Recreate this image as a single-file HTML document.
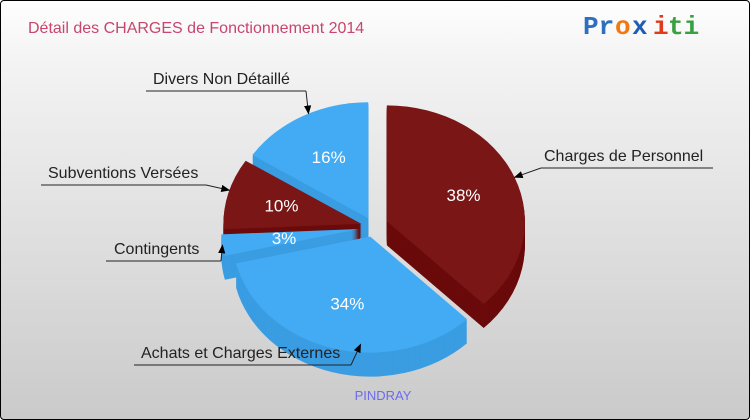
<!DOCTYPE html>
<html><head><meta charset="utf-8"><style>
html,body{margin:0;padding:0;}
#wrap{position:relative;width:748px;height:418px;border:1px solid #000;border-radius:4px;background:linear-gradient(#fefefe,#f3f3f3 15%,#cacaca);overflow:hidden;font-family:"Liberation Sans",sans-serif;}
svg{position:absolute;left:0;top:0;}
</style></head><body>
<div id="wrap">
<svg id="chart" width="750" height="420">
<defs><marker id="ah" viewBox="0 0 10 10" refX="9" refY="5" markerWidth="9" markerHeight="9" orient="auto"><path d="M0,1L10,5L0,9z" fill="#000"/></marker></defs>
<text x="27" y="32" font-size="16" fill="#c8456e">Détail des CHARGES de Fonctionnement 2014</text>
<g font-size="26" font-weight="bold" font-family="Liberation Mono,monospace">
<text x="582" y="33" fill="#2f6fc0">Pr</text><text x="614" y="33" fill="#f07a10">o</text><text x="631" y="33" fill="#1e5cb8">x</text><text x="652" y="33" fill="#e03a1a">i</text><text x="667" y="33" fill="#38a040">ti</text>
</g>
<text x="382" y="399" font-size="13" fill="#6b6bf0" text-anchor="middle">PINDRAY</text>
</svg>
</div>
<script>
const categories=["Charges de Personnel","Achats et Charges Externes","Contingents","Subventions Versées","Divers Non Détaillé"];
const values=[38,34,3,10,16];
const pctLabels=["38%","34%","3%","10%","16%"];
const sliceColors=["red","blue","blue","red","blue"];
const ns="http://www.w3.org/2000/svg";
const svgEl=document.getElementById('chart');
const cx=372,cy=226,rx=138,ry=116,depth=24;
const explodeBy=[15,10,14,12,10];
const topCol={red:"#7a1616",blue:"#42abf3"},sideCol={red:"#6a0a0a",blue:"#3a9de2"};
const total=values.reduce((a,b)=>a+b,0);
function ang(v){return v/total*Math.PI*2;}
let startA=-Math.PI/2;
const slices=[];
values.forEach((v,i)=>{const a1=startA+ang(v);slices.push({i,a0:startA,a1,m:(startA+a1)/2});startA=a1;});
function slicePath(s,dx,dy){
  const ox=cx+dx,oy=cy+dy;
  const x0=ox+rx*Math.cos(s.a0),y0=oy+ry*Math.sin(s.a0),x1=ox+rx*Math.cos(s.a1),y1=oy+ry*Math.sin(s.a1);
  const large=(s.a1-s.a0)>Math.PI?1:0;
  return `M${ox},${oy}L${x0},${y0}A${rx},${ry} 0 ${large} 1 ${x1},${y1}Z`;
}
const g=document.createElementNS(ns,'g');
svgEl.appendChild(g);
slices.forEach(s=>{s.dx=explodeBy[s.i]*Math.cos(s.m);s.dy=explodeBy[s.i]*Math.sin(s.m);});
slices.slice().sort((a,b)=>Math.sin(a.m)-Math.sin(b.m)).forEach(s=>{
  const c=sliceColors[s.i];
  const sg=document.createElementNS(ns,'g');
  
  
  for(let d=depth;d>0;d-=1){
    const p=document.createElementNS(ns,'path');
    p.setAttribute('d',slicePath(s,s.dx,s.dy+d));p.setAttribute('fill',sideCol[c]);
    sg.appendChild(p);
  }
  const p=document.createElementNS(ns,'path');
  p.setAttribute('d',slicePath(s,s.dx,s.dy));p.setAttribute('fill',topCol[c]);
  sg.appendChild(p);
  g.appendChild(sg);
});
slices.forEach(s=>{
  const t=document.createElementNS(ns,'text');
  
  
  const r=s.i==2?0.55:0.6;
  t.setAttribute('x',cx+s.dx+rx*r*Math.cos(s.m));
  t.setAttribute('y',cy+s.dy+ry*r*Math.sin(s.m)+6);
  t.setAttribute('text-anchor','middle');t.setAttribute('font-size','17');t.setAttribute('fill','#fff');
  t.textContent=pctLabels[s.i];svgEl.appendChild(t);
});
const labelPos=[[543,160,540,712],[140,357,133,350],[113,253,105,220],[47,177,40,205],[152,83,145,305]];
const tipAngleAdj=[0,-0.21,0,0.03,0.05];
slices.forEach(s=>{
  const L=labelPos[s.i];
  const t=document.createElementNS(ns,'text');
  
  
  t.setAttribute('x',L[0]);t.setAttribute('y',L[1]);t.setAttribute('font-size','16');t.setAttribute('fill','#222');
  t.textContent=categories[s.i];svgEl.appendChild(t);
  const a=s.m+tipAngleAdj[s.i];
  const tx=cx+s.dx+rx*Math.cos(a),ty=cy+s.dy+ry*Math.sin(a)-(s.i==1?8:0);
  const ux=(L[0]>cx)?L[2]:L[3],uy=L[1]+7;
  const ln=document.createElementNS(ns,'path');
  
  
  ln.setAttribute('d',`M${L[2]},${uy}L${L[3]},${uy}M${ux},${uy}L${tx},${ty}`);
  ln.setAttribute('stroke','#222');ln.setAttribute('fill','none');ln.setAttribute('stroke-width','1');
  ln.setAttribute('marker-end','url(#ah)');
  svgEl.appendChild(ln);
});
</script>
</body></html>
